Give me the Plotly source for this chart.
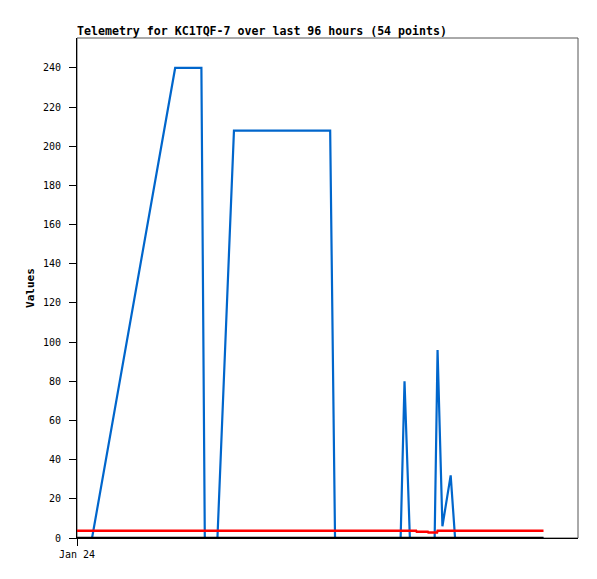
import plotly.graph_objects as go

# Time in hours since Jan 24 00:00
blue_hours = [0, 3.1, 20.2, 25.6, 26.3, 28.9, 32.3, 52.1, 53.1, 66.6, 67.4, 68.5,
              73.6, 74.2, 75.2, 76.9, 77.8, 96]
blue_values = [0, 0, 240, 240, 0, 0, 208, 208, 0, 0, 80, 0,
               0, 96, 6, 32, 0, 0]

red_hours = [0, 69.8, 69.9, 72.2, 72.3, 74.1, 74.2, 96]
red_values = [3.7, 3.7, 3.2, 3.2, 2.8, 2.8, 3.7, 3.7]

black_hours = [0, 96]
black_values = [0, 0]

y_ticks = [0, 20, 40, 60, 80, 100, 120, 140, 160, 180, 200, 220, 240]
x_tick_vals = [0]
x_tick_text = ["Jan 24"]

title_text = "Telemetry for KC1TQF-7 over last 96 hours (54 points)"

fig = go.Figure()
fig.add_trace(go.Scatter(x=blue_hours, y=blue_values, mode="lines",
                         line=dict(color="#0066CC", width=2.2), showlegend=False))
fig.add_trace(go.Scatter(x=red_hours, y=red_values, mode="lines",
                         line=dict(color="#FF0000", width=2.4), showlegend=False))
fig.add_trace(go.Scatter(x=black_hours, y=black_values, mode="lines",
                         line=dict(color="#000000", width=2.6), showlegend=False))

mono = "DejaVu Sans Mono"

fig.update_layout(
    width=597, height=579,
    margin=dict(l=69, r=27, t=30, b=49, autoexpand=False),
    paper_bgcolor="white", plot_bgcolor="white",
    title=dict(text="<b>" + title_text + "</b>", x=69/597, xanchor="left", xref="container",
               y=1 - 23/579, yanchor="middle", yref="container",
               font=dict(family=mono, size=11.6, color="black")),
    xaxis=dict(range=[0, 103.1], showgrid=False, zeroline=False, automargin=False,
               showline=True, linecolor="black", linewidth=1,
               ticks="outside", ticklen=7, tickcolor="black",
               tickvals=x_tick_vals, ticktext=x_tick_text,
               tickfont=dict(family=mono, size=10, color="black")),
    yaxis=dict(range=[0, 255.3], showgrid=False, zeroline=False, automargin=False,
               showline=True, linecolor="black", linewidth=1,
               ticks="outside", ticklen=7, tickcolor="black",
               tickvals=y_ticks, ticklabelstandoff=6,
               tickfont=dict(family=mono, size=10, color="black"),
               title=dict(text="<b>Values</b>", standoff=6,
                          font=dict(family=mono, size=11, color="black"))),
    shapes=[dict(type="rect", xref="paper", yref="paper", x0=0, y0=0, x1=1, y1=1,
                 line=dict(color="#555555", width=1), layer="below")],
)

fig.write_html("out.html")
